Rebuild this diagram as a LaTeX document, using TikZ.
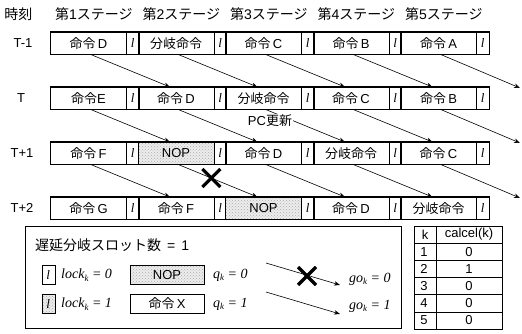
\documentclass[tikz,border=0pt]{standalone}
\usepackage{fontspec}
\setmainfont{Liberation Sans}
\newfontfamily\jp{Noto Sans CJK JP}
\newfontfamily\tms{Liberation Serif}
\usetikzlibrary{calc,patterns,arrows.meta}
\newcommand\lsym{{\tms\itshape l}}
\newcommand\subk{\raisebox{-0.4ex}{\fontsize{9}{9}\selectfont k}}
\tikzset{
  txt/.style={inner sep=0pt, font=\fontsize{13}{15}\selectfont},
  mainc/.style={txt, anchor=north west, minimum width=75pt, minimum height=22pt},
  lcell/.style={txt, draw, line width=0.6pt, anchor=north west, minimum width=12.5pt, minimum height=22pt},
  stagebox/.style={draw, line width=1.2pt},
  shaded/.style={preaction={fill=gray!14}, pattern=crosshatch dots, pattern color=gray!65},
  flow/.style={line width=0.6pt, -{Stealth[length=6pt,width=4.5pt]}},
  xmark/.pic={\draw[line width=3.2pt] (-9,-9)--(9,9) (-9,9)--(9,-9);},
  lbl/.style={txt},
  hdr/.style={inner sep=0pt, font=\fontsize{14}{16}\selectfont},
  mth/.style={inner sep=0pt, anchor=west, font=\fontsize{14}{16}\selectfont\tms\itshape},
}
\newcommand\stg[4]{%
  \node[mainc,#4] (m#1#2) at ({50.8+#2*87.5}, {32+#1*55}) {#3};
  \node[lcell] (l#1#2) at (m#1#2.north east) {\lsym};
  \draw[stagebox] (m#1#2.north west) rectangle (l#1#2.south east);
}
\begin{document}
\begin{tikzpicture}[x=1pt,y=-1pt]
\useasboundingbox (0,0) rectangle (522,334);
% header
\node[hdr] (hd) at (18.5,14) {\jp 時刻};
\foreach \i in {1,...,5}{
  \node[hdr] (h\i) at ({50.8+(\i-1)*87.5+43},14) {{\jp 第}\i{\jp ステージ}};
}
% row labels
\node[lbl] (t0) at (23,43) {T-1};
\node[lbl] (t1) at (21,98) {T};
\node[lbl] (t2) at (22,153) {T+1};
\node[lbl] (t3) at (22,208) {T+2};
% rows
\stg{0}{0}{{\jp 命令}\,D}{}
\stg{0}{1}{\jp 分岐命令}{}
\stg{0}{2}{{\jp 命令}\,C}{}
\stg{0}{3}{{\jp 命令}\,B}{}
\stg{0}{4}{{\jp 命令}\,A}{}
\stg{1}{0}{{\jp 命令}E}{}
\stg{1}{1}{{\jp 命令}\,D}{}
\stg{1}{2}{\jp 分岐命令}{}
\stg{1}{3}{{\jp 命令}\,C}{}
\stg{1}{4}{{\jp 命令}\,B}{}
\stg{2}{0}{{\jp 命令}\,F}{}
\stg{2}{1}{NOP}{shaded}
\stg{2}{2}{{\jp 命令}\,D}{}
\stg{2}{3}{\jp 分岐命令}{}
\stg{2}{4}{{\jp 命令}\,C}{}
\stg{3}{0}{{\jp 命令}\,G}{}
\stg{3}{1}{{\jp 命令}\,F}{}
\stg{3}{2}{NOP}{shaded}
\stg{3}{3}{{\jp 命令}\,D}{}
\stg{3}{4}{\jp 分岐命令}{}
% arrows
\foreach \r/\n in {0/1,1/2,2/3}{
  \foreach \s/\t in {0/1,1/2,2/3,3/4}{
    \draw[flow] ($(m\r\s.south)+(2,0)$) -- ($(m\n\t.north)+(-6,0)$);
  }
}
\coordinate (o0) at (520,88);
\coordinate (o1) at (520,143);
\coordinate (o2) at (520,198);
\draw[flow] ($(m04.south)+(2,0)$) -- (o0);
\draw[flow] ($(m14.south)+(2,0)$) -- (o1);
\draw[flow] ($(m24.south)+(2,0)$) -- (o2);
\node[lbl, fill=white, inner sep=1pt] (pc) at (270,121) {PC{\jp 更新}};
\coordinate (xc) at ($($(m21.south)+(2,0)$)!0.42!($(m32.north)+(-6,0)$)$);
\pic at (xc) {xmark};
% legend
\node[draw, line width=1.4pt, anchor=north west, minimum width=376pt, minimum height=102pt, inner sep=0pt] (leg) at (25,226) {};
\node[hdr, anchor=west] (title) at (35,245) {{\jp 遅延分岐スロット数}\hspace{6pt}=\hspace{6pt}1};
\node[txt, draw, line width=0.6pt, minimum width=13pt, minimum height=19pt] (lk0) at (48.3,275) {\lsym};
\node[mth] (lock0) at (61,275) {lock\subk\ =\ 0};
\node[txt, draw, line width=1pt, minimum width=74pt, minimum height=19pt, shaded] (nopl) at (167,275) {NOP};
\node[mth] (q0) at (213,275) {q\subk\ =\ 0};
\node[txt, draw, line width=0.6pt, minimum width=13pt, minimum height=19pt, shaded] (lk1) at (48.3,304) {\lsym};
\node[mth] (lock1) at (61,304) {lock\subk\ =\ 1};
\node[txt, draw, line width=1pt, minimum width=74pt, minimum height=19pt] (insx) at (167,304) {{\jp 命令}\,X};
\node[mth] (q1) at (213,304) {q\subk\ =\ 1};
\coordinate (ga0) at (266,263);
\coordinate (gb0) at (340,285);
\coordinate (ga1) at (266,292);
\coordinate (gb1) at (340,314);
\draw[flow] (ga0) -- (gb0);
\draw[flow] (ga1) -- (gb1);
\pic at (307,276) {xmark};
\node[mth] (go0) at (349,279) {go\subk\ =\ 0};
\node[mth] (go1) at (349,306) {go\subk\ =\ 1};
% table
\node[draw, line width=1.4pt, anchor=north west, minimum width=88pt, minimum height=103pt, inner sep=0pt] (tab) at (414,226) {};
\draw[line width=0.7pt] (436,226) -- (436,329);
\foreach \j in {1,...,5}{\draw[line width=0.7pt] (414,{226+\j*17.17}) -- (502,{226+\j*17.17});}
\node[lbl] (tk) at (425,234.6) {k};
\node[lbl] (tc) at (469,234.6) {calcel(k)};
\foreach \k/\v [count=\j from 1] in {1/0,2/1,3/0,4/0,5/0}{
  \node[lbl] (k\k) at (424,{234.6+\j*17.17}) {\k};
  \node[lbl] (v\k) at (469,{234.6+\j*17.17}) {\v};
}
\end{tikzpicture}
\end{document}
